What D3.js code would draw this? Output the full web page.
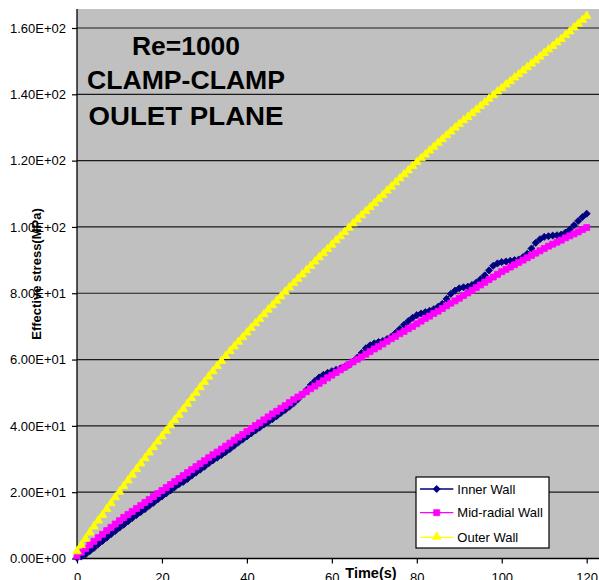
<!DOCTYPE html>
<html>
<head>
<meta charset="utf-8">
<script src="https://cdn.jsdelivr.net/npm/d3@7"></script>
<style>
  html, body { margin: 0; padding: 0; background: #fff; }
  svg { display: block; font-family: "Liberation Sans", Arial, sans-serif; }
</style>
</head>
<body>
<svg id="chart" width="599" height="580"></svg>
<script>
// Time samples (s), one per second
const time = d3.range(0, 121, 1);

// Effective stress (MPa) at each wall location
const innerWall = [
  0.2, 0.6, 1.2, 2.2, 3.2, 4.3, 5.3, 6.3, 7.3, 8.3,
  9.3, 10.2, 11.2, 12.2, 13.1, 14.0, 14.9, 15.9, 16.8, 17.8,
  18.7, 19.6, 20.5, 21.5, 22.4, 23.1, 24.0, 25.0, 25.9, 26.8,
  27.7, 28.7, 29.6, 30.4, 31.2, 32.1, 33.0, 34.0, 35.0, 35.9,
  36.8, 37.7, 38.6, 39.5, 40.4, 41.2, 42.0, 42.9, 43.9, 44.8,
  45.8, 46.8, 48.0, 49.4, 50.8, 52.3, 53.5, 54.6, 55.4, 56.0,
  56.5, 56.9, 57.3, 57.8, 58.4, 59.4, 60.6, 62.0, 63.4, 64.3,
  64.9, 65.3, 65.6, 66.2, 66.9, 68.0, 69.2, 70.5, 71.6, 72.6,
  73.4, 73.9, 74.3, 74.7, 75.2, 75.9, 76.8, 78.3, 79.8, 80.8,
  81.5, 81.8, 82.0, 82.5, 83.2, 84.2, 85.4, 86.9, 88.3, 89.0,
  89.4, 89.6, 89.8, 90.0, 90.2, 90.9, 91.9, 93.5, 95.2, 96.3,
  97.0, 97.2, 97.4, 97.5, 97.7, 98.3, 99.2, 100.5, 101.8, 103.0,
  104.0
];
const midRadialWall = [
  0.8, 1.9, 3.0, 4.1, 5.2, 6.3, 7.3, 8.4, 9.4, 10.4,
  11.4, 12.4, 13.3, 14.2, 15.1, 16.0, 16.9, 17.8, 18.7, 19.6,
  20.5, 21.4, 22.3, 23.2, 24.1, 25.0, 25.9, 26.8, 27.7, 28.6,
  29.5, 30.4, 31.3, 32.1, 33.0, 33.9, 34.8, 35.7, 36.6, 37.4,
  38.3, 39.2, 40.1, 40.9, 41.8, 42.7, 43.6, 44.4, 45.3, 46.1,
  47.0, 47.9, 48.7, 49.5, 50.3, 51.2, 52.0, 52.8, 53.6, 54.5,
  55.3, 56.1, 56.9, 57.7, 58.5, 59.3, 60.1, 60.8, 61.6, 62.4,
  63.2, 63.9, 64.7, 65.5, 66.3, 67.0, 67.8, 68.5, 69.3, 70.0,
  70.8, 71.6, 72.4, 73.1, 73.9, 74.6, 75.4, 76.2, 77.0, 77.7,
  78.5, 79.3, 80.1, 80.9, 81.7, 82.5, 83.3, 84.1, 84.9, 85.7,
  86.5, 87.2, 87.9, 88.6, 89.3, 90.0, 90.7, 91.4, 92.1, 92.8,
  93.5, 94.2, 94.8, 95.4, 96.0, 96.7, 97.3, 97.9, 98.5, 99.2,
  99.8
];
const outerWall = [
  2.0, 3.9, 5.8, 7.7, 9.5, 11.3, 13.0, 14.8, 16.5, 18.3,
  20.0, 21.7, 23.4, 25.1, 26.8, 28.5, 30.1, 31.8, 33.4, 35.1,
  36.7, 38.4, 40.0, 41.6, 43.2, 44.9, 46.5, 48.2, 49.8, 51.5,
  53.1, 54.7, 56.3, 57.9, 59.4, 60.9, 62.4, 63.8, 65.2, 66.6,
  68.0, 69.4, 70.8, 72.1, 73.5, 74.9, 76.2, 77.6, 78.9, 80.3,
  81.6, 82.9, 84.2, 85.5, 86.8, 88.1, 89.4, 90.7, 91.9, 93.2,
  94.5, 95.8, 97.0, 98.3, 99.6, 100.9, 102.1, 103.4, 104.6, 105.8,
  107.0, 108.3, 109.5, 110.8, 112.0, 113.3, 114.5, 115.7, 116.9, 118.2,
  119.4, 120.6, 121.7, 122.9, 124.0, 125.2, 126.3, 127.5, 128.6, 129.8,
  130.9, 132.0, 133.0, 134.1, 135.2, 136.3, 137.4, 138.5, 139.6, 140.7,
  141.7, 142.8, 143.8, 144.9, 145.9, 147.0, 148.0, 149.1, 150.1, 151.2,
  152.3, 153.4, 154.4, 155.5, 156.5, 157.7, 158.8, 160.0, 161.1, 162.3,
  163.5
];

const seriesNames = ["Inner Wall", "Mid-radial Wall", "Outer Wall"];
const xTicks = [0, 20, 40, 60, 80, 100, 120];
const yTicks = [0, 20, 40, 60, 80, 100, 120, 140, 160];
const yTickLabels = ["0.00E+00", "2.00E+01", "4.00E+01", "6.00E+01", "8.00E+01",
                     "1.00E+02", "1.20E+02", "1.40E+02", "1.60E+02"];
const titleLines = ["Re=1000", "CLAMP-CLAMP", "OULET PLANE"];
const xTitle = "Time(s)";
const yTitle = "Effective stress(MPa)";

const series = [
  { name: seriesNames[0], values: innerWall, color: "#000080", symbol: "diamond" },
  { name: seriesNames[1], values: midRadialWall, color: "#FF00FF", symbol: "square" },
  { name: seriesNames[2], values: outerWall, color: "#FFFF00", symbol: "triangle" }
];

const svg = d3.select("#chart");

// Plot frame
const plot = { left: 77, right: 599, top: 9, bottom: 558.5 };
const x = d3.scaleLinear().domain([0, 120]).range([plot.left, 586.7]);
const y = d3.scaleLinear().domain([0, 160]).range([plot.bottom, 28]);

svg.append("rect")
  .attr("x", plot.left).attr("y", plot.top)
  .attr("width", plot.right - plot.left)
  .attr("height", plot.bottom - plot.top)
  .attr("fill", "#C0C0C0");

// Horizontal gridlines
svg.append("g")
  .selectAll("line")
  .data(yTicks.filter(d => d > 0))
  .join("line")
  .attr("x1", plot.left).attr("x2", plot.right)
  .attr("y1", d => y(d)).attr("y2", d => y(d))
  .attr("stroke", "#1a1a1a")
  .attr("stroke-width", 1.2);

// Y axis
const yAxis = d3.axisLeft(y)
  .tickValues(yTicks)
  .tickFormat((d, i) => yTickLabels[i])
  .tickSize(5)
  .tickPadding(6);
const gy = svg.append("g")
  .attr("transform", `translate(${plot.left},0)`)
  .call(yAxis);
gy.select(".domain").remove();
gy.append("line")
  .attr("x1", 0).attr("x2", 0)
  .attr("y1", plot.top).attr("y2", plot.bottom)
  .attr("stroke", "#000").attr("stroke-width", 1.3);
gy.selectAll(".tick line").attr("stroke", "#000").attr("stroke-width", 1.2);
gy.selectAll(".tick text")
  .attr("font-size", 13)
  .attr("font-family", "Liberation Sans, Arial, sans-serif")
  .attr("fill", "#000");

// X axis (labels sit at the lower edge of the page)
const xAxis = d3.axisBottom(x)
  .tickValues(xTicks)
  .tickFormat(d3.format("d"))
  .tickSize(5)
  .tickPadding(9);
const gx = svg.append("g")
  .attr("transform", `translate(0,${plot.bottom})`)
  .call(xAxis);
gx.select(".domain").remove();
gx.append("line")
  .attr("x1", plot.left).attr("x2", plot.right)
  .attr("y1", 0).attr("y2", 0)
  .attr("stroke", "#000").attr("stroke-width", 1.3);
gx.selectAll(".tick line").attr("stroke", "#000").attr("stroke-width", 1.2);
gx.selectAll(".tick text")
  .attr("font-size", 13)
  .attr("font-family", "Liberation Sans, Arial, sans-serif")
  .attr("fill", "#000");

// Axis titles
svg.append("text")
  .attr("x", 371).attr("y", 577.5)
  .attr("text-anchor", "middle")
  .attr("font-size", 14.5)
  .attr("font-weight", "bold")
  .text(xTitle);

svg.append("text")
  .attr("transform", "translate(40.5,274) rotate(-90)")
  .attr("text-anchor", "middle")
  .attr("font-size", 13)
  .attr("font-weight", "bold")
  .text(yTitle);

// Marker shapes
function markerPath(kind) {
  if (kind === "diamond") return d3.symbol(d3.symbolSquare, 25)();
  if (kind === "square") return d3.symbol(d3.symbolSquare, 36)();
  return d3.symbol(d3.symbolTriangle, 32)();
}
function markerTransform(kind, px, py) {
  if (kind === "diamond") return `translate(${px},${py}) rotate(45)`;
  if (kind === "triangle") return `translate(${px},${py - 0.5})`;
  return `translate(${px},${py})`;
}

const line = d3.line()
  .x((d, i) => x(time[i]))
  .y(d => y(d));

series.forEach(s => {
  const g = svg.append("g");
  g.append("path")
    .attr("d", line(s.values))
    .attr("fill", "none")
    .attr("stroke", s.color)
    .attr("stroke-width", 1);
  g.selectAll("path.m")
    .data(s.values)
    .join("path")
    .attr("class", "m")
    .attr("d", markerPath(s.symbol))
    .attr("transform", (d, i) => markerTransform(s.symbol, x(time[i]), y(d)))
    .attr("fill", s.color)
    .attr("stroke", s.color)
    .attr("stroke-width", 0.8);
});

// Title block
const titleBaselines = [55, 89.3, 125];
const titleWidths = [108, 198, 195];
svg.append("g")
  .selectAll("text")
  .data(titleLines)
  .join("text")
  .attr("x", 186)
  .attr("y", (d, i) => titleBaselines[i])
  .attr("text-anchor", "middle")
  .attr("font-size", 25.5)
  .attr("font-weight", "bold")
  .attr("fill", "#000")
  .attr("textLength", (d, i) => titleWidths[i])
  .attr("lengthAdjust", "spacingAndGlyphs")
  .text(d => d);

// Legend
const legend = svg.append("g");
legend.append("rect")
  .attr("x", 416).attr("y", 477)
  .attr("width", 133).attr("height", 71)
  .attr("fill", "#fff")
  .attr("stroke", "#000")
  .attr("stroke-width", 1.2);
const legendY = [489, 512.7, 537.3];
series.forEach((s, i) => {
  const ly = legendY[i];
  legend.append("line")
    .attr("x1", 420).attr("x2", 453.3)
    .attr("y1", ly).attr("y2", ly)
    .attr("stroke", s.color).attr("stroke-width", 1.3);
  legend.append("path")
    .attr("d", markerPath(s.symbol))
    .attr("transform", markerTransform(s.symbol, 436.7, ly))
    .attr("fill", s.color)
    .attr("stroke", s.color)
    .attr("stroke-width", 0.8);
  legend.append("text")
    .attr("x", 457.3).attr("y", ly)
    .attr("dy", "0.35em")
    .attr("font-size", 13)
    .attr("fill", "#000")
    .text(s.name);
});
</script>
</body>
</html>
